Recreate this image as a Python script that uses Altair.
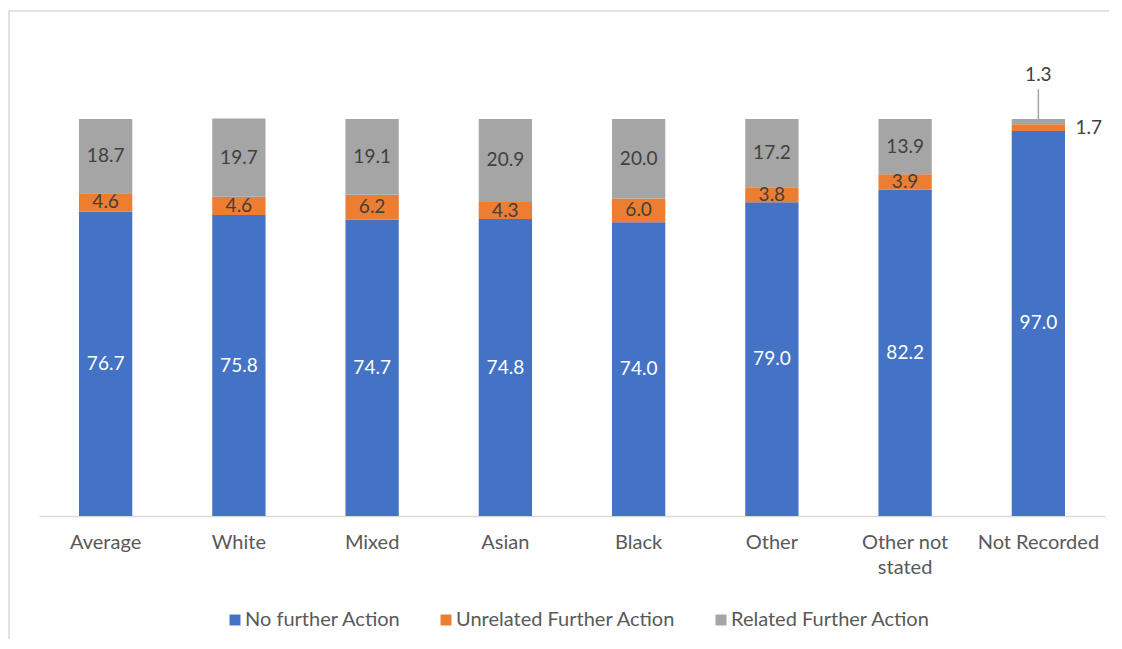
import altair as alt
import pandas as pd

categories = ["Average", "White", "Mixed", "Asian", "Black", "Other", "Other not stated", "Not Recorded"]
no_further = [76.7, 75.8, 74.7, 74.8, 74.0, 79.0, 82.2, 97.0]
unrelated = [4.6, 4.6, 6.2, 4.3, 6.0, 3.8, 3.9, 1.7]
related = [18.7, 19.7, 19.1, 20.9, 20.0, 17.2, 13.9, 1.3]
series = ["No further Action", "Unrelated Further Action", "Related Further Action"]
colors = ["#4472C4", "#ED7D31", "#A5A5A5"]

rows = []
for i, c in enumerate(categories):
    vals = [no_further[i], unrelated[i], related[i]]
    base = 0.0
    for j, s in enumerate(series):
        rows.append({"cat": c, "series": s, "order": j, "value": vals[j],
                     "y0": base, "y1": base + vals[j], "mid": base + vals[j] / 2,
                     "label": f"{vals[j]:.1f}"})
        base += vals[j]
df = pd.DataFrame(rows)

FONT = "Lato"
x_enc = alt.X("cat:N", sort=categories, title=None,
              scale=alt.Scale(paddingInner=0.6, paddingOuter=0.3),
              axis=alt.Axis(labelAngle=0, ticks=False, domainColor="#D9D9D9", domainWidth=1.5,
                            labelFont=FONT, labelFontSize=20, labelColor="#595959",
                            labelPadding=16, labelLineHeight=25,
                            labelExpr="datum.label == 'Other not stated' ? ['Other not', 'stated'] : datum.label"))
y_scale = alt.Scale(domain=[0, 100], nice=False, zero=True)

bars = alt.Chart(df).mark_bar().encode(
    x=x_enc,
    y=alt.Y("y0:Q", scale=y_scale, axis=None),
    y2="y1:Q",
    color=alt.Color("series:N", sort=series,
                    scale=alt.Scale(domain=series, range=colors),
                    legend=alt.Legend(title=None, orient="none", direction="horizontal",
                                      legendX=186, legendY=491, symbolType="square",
                                      symbolSize=120, symbolStrokeWidth=0,
                                      labelFont=FONT, labelFontSize=20, labelColor="#595959",
                                      labelOffset=0, columnPadding=35, labelLimit=0)),
)

main_lbl = df[df["cat"] != "Not Recorded"].copy()
nr = df[df["cat"] == "Not Recorded"]

LBL = 19
white_lbl = alt.Chart(pd.concat([main_lbl[main_lbl["order"] == 0], nr[nr["order"] == 0]])).mark_text(
    font=FONT, fontSize=LBL, color="white").encode(
    x=alt.X("cat:N", sort=categories), y=alt.Y("mid:Q", scale=y_scale), text="label:N")

dark_lbl = alt.Chart(main_lbl[main_lbl["order"] > 0]).mark_text(
    font=FONT, fontSize=LBL, color="#404040").encode(
    x=alt.X("cat:N", sort=categories), y=alt.Y("mid:Q", scale=y_scale), text="label:N")

nr_orange = alt.Chart(nr[nr["order"] == 1]).mark_text(
    font=FONT, fontSize=LBL, color="#404040", align="left", dx=37).encode(
    x=alt.X("cat:N", sort=categories), y=alt.Y("mid:Q", scale=y_scale), text="label:N")

nr_gray_df = nr[nr["order"] == 2].copy()
nr_gray_df["lbl_y"] = 111.0
nr_gray_df["lead_top"] = 107.5
nr_gray = alt.Chart(nr_gray_df).mark_text(
    font=FONT, fontSize=LBL, color="#404040").encode(
    x=alt.X("cat:N", sort=categories), y=alt.Y("lbl_y:Q", scale=y_scale), text="label:N")
leader = alt.Chart(nr_gray_df).mark_rule(color="#A5A5A5", strokeWidth=1.5).encode(
    x=alt.X("cat:N", sort=categories), y=alt.Y("mid:Q", scale=y_scale), y2="lead_top:Q")

border_left = alt.Chart(pd.DataFrame({"a": [0]})).mark_rule(color="#D9D9D9", strokeWidth=1.5).encode(
    x=alt.value(-30), y=alt.value(-108), y2=alt.value(520))
border_top = alt.Chart(pd.DataFrame({"a": [0]})).mark_rule(color="#D9D9D9", strokeWidth=1.5).encode(
    x=alt.value(-30), x2=alt.value(1070), y=alt.value(-108))

chart = alt.layer(border_left, border_top, bars, leader, white_lbl, dark_lbl, nr_orange, nr_gray).properties(
    width=1066, height=397,
    padding={"left": 0, "top": 2, "right": 0, "bottom": 0},
).configure_view(stroke=None)

chart.save("out.html", embed_options={"renderer": "svg", "actions": False})
